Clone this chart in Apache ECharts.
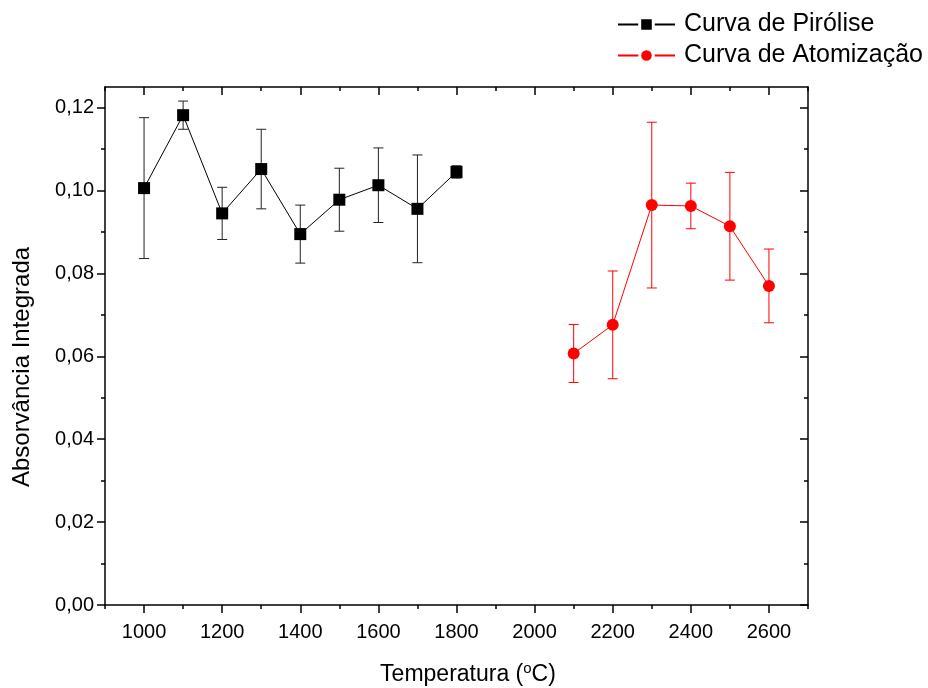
<!DOCTYPE html>
<html>
<head>
<meta charset="utf-8">
<script src="https://cdn.jsdelivr.net/npm/echarts@6/dist/echarts.min.js"></script>
<style>html,body{margin:0;padding:0;background:#fff}#c{width:928px;height:688px}</style>
</head>
<body>
<div id="c"></div>
<script>
// ---- data ----
const pyroTemps = [1000, 1100, 1200, 1300, 1400, 1500, 1600, 1700, 1800];
const pyroValues = [0.1006, 0.1182, 0.0945, 0.1052, 0.0895, 0.0978, 0.1013, 0.0956, 0.1045];
const pyroErr = [0.0170, 0.0034, 0.0063, 0.0096, 0.0070, 0.0076, 0.0090, 0.0130, 0.0015];
const atomTemps = [2100, 2200, 2300, 2400, 2500, 2600];
const atomValues = [0.0607, 0.0676, 0.0965, 0.0963, 0.0914, 0.0770];
const atomErr = [0.0070, 0.0130, 0.0200, 0.0055, 0.0130, 0.0089];
const xMajorTicks = [1000, 1200, 1400, 1600, 1800, 2000, 2200, 2400, 2600];
const xMinorTicks = [900, 1100, 1300, 1500, 1700, 1900, 2100, 2300, 2500, 2700];
const yMajorTicks = [0, 0.02, 0.04, 0.06, 0.08, 0.10, 0.12];
const yMinorTicks = [0.01, 0.03, 0.05, 0.07, 0.09, 0.11];
const seriesNames = ['Curva de Pirólise', 'Curva de Atomização'];
const xTitle = ['Temperatura (', 'o', 'C)'];
const yTitle = 'Absorvância Integrada';

const FONT = '"Liberation Sans", Arial, sans-serif';
const chart = echarts.init(document.getElementById('c'));
const axisLineStyle = { color: '#000', width: 1.5 };

function errRender(color) {
  return function (params, api) {
    const x = api.value(0), y = api.value(1), e = api.value(2);
    const top = api.coord([x, y + e]);
    const bot = api.coord([x, y - e]);
    const hw = 5;
    const style = { stroke: color, lineWidth: 1, fill: null };
    return {
      type: 'group',
      children: [
        { type: 'line', shape: { x1: top[0], y1: top[1], x2: bot[0], y2: bot[1] }, style: style },
        { type: 'line', shape: { x1: top[0] - hw, y1: top[1], x2: top[0] + hw, y2: top[1] }, style: style },
        { type: 'line', shape: { x1: bot[0] - hw, y1: bot[1], x2: bot[0] + hw, y2: bot[1] }, style: style }
      ]
    };
  };
}

function xAx(pos, ticks, len, inside, showLine, showLabel) {
  return {
    type: 'value', position: pos, min: 900, max: 2700,
    axisLine: { show: showLine, onZero: false, lineStyle: axisLineStyle },
    axisTick: { show: true, inside: inside, length: len, customValues: ticks, lineStyle: axisLineStyle },
    axisLabel: showLabel ? {
      customValues: xMajorTicks, fontSize: 20, fontFamily: FONT, color: '#000', margin: 17,
      formatter: v => String(v)
    } : { show: false },
    splitLine: { show: false }
  };
}
function yAx(pos, ticks, len, inside, showLine, showLabel) {
  return {
    type: 'value', position: pos, min: 0, max: 0.125,
    axisLine: { show: showLine, onZero: false, lineStyle: axisLineStyle },
    axisTick: { show: true, inside: inside, length: len, customValues: ticks, lineStyle: axisLineStyle },
    axisLabel: showLabel ? {
      customValues: yMajorTicks, fontSize: 20, fontFamily: FONT, color: '#000', margin: 11,
      formatter: v => v.toFixed(2).replace('.', ',')
    } : { show: false },
    splitLine: { show: false }
  };
}

const legendItemStyle = { borderColor: '#fff', borderWidth: 3 };

chart.setOption({
  animation: false,
  backgroundColor: '#fff',
  grid: { left: 105, right: 120, top: 87, bottom: 83, outerBoundsMode: 'none', containLabel: false },
  legend: {
    orient: 'vertical', left: 617, top: 12, padding: 0,
    itemWidth: 57, itemHeight: 17, itemGap: 6,
    textStyle: { fontSize: 25, fontFamily: FONT, color: '#000', padding: [0, 0, 0, 4] },
    itemStyle: legendItemStyle,
    data: seriesNames.map(n => ({ name: n, itemStyle: legendItemStyle }))
  },
  graphic: [
    {
      type: 'text', x: 468, y: 675,
      style: {
        text: '{t|' + xTitle[0] + '}{s|' + xTitle[1] + '}{t|' + xTitle[2] + '}',
        align: 'center', verticalAlign: 'middle',
        rich: {
          t: { fontSize: 23, fontFamily: FONT, fill: '#000' },
          s: { fontSize: 15, fontFamily: FONT, fill: '#000', verticalAlign: 'top', padding: [0, 0, 13, 0] }
        }
      }
    },
    {
      type: 'text', x: 22, y: 367, rotation: Math.PI / 2,
      style: {
        text: yTitle, fontSize: 24, fontFamily: FONT, fill: '#000',
        align: 'center', verticalAlign: 'middle'
      }
    }
  ],
  xAxis: [
    xAx('bottom', xMajorTicks, 8, false, true, true),
    xAx('bottom', xMinorTicks, 4, false, false, false),
    xAx('top', xMajorTicks, 8, true, true, false),
    xAx('top', xMinorTicks, 4, true, false, false)
  ],
  yAxis: [
    yAx('left', yMajorTicks, 8, false, true, true),
    yAx('left', yMinorTicks, 4, false, false, false),
    yAx('right', yMajorTicks, 8, true, true, false),
    yAx('right', yMinorTicks, 4, true, false, false)
  ],
  series: [
    {
      type: 'custom', name: 'errPyro', xAxisIndex: 0, yAxisIndex: 0, z: 1,
      renderItem: errRender('#222'), encode: { x: 0, y: 1 },
      data: pyroTemps.map((t, i) => [t, pyroValues[i], pyroErr[i]])
    },
    {
      type: 'custom', name: 'errAtom', xAxisIndex: 0, yAxisIndex: 0, z: 1,
      renderItem: errRender('#ff0000'), encode: { x: 0, y: 1 },
      data: atomTemps.map((t, i) => [t, atomValues[i], atomErr[i]])
    },
    {
      type: 'line', name: seriesNames[0], xAxisIndex: 0, yAxisIndex: 0, z: 3,
      symbol: 'rect', symbolSize: 12,
      itemStyle: { color: '#000' }, lineStyle: { color: '#000', width: 1 },
      data: pyroTemps.map((t, i) => [t, pyroValues[i]])
    },
    {
      type: 'line', name: seriesNames[1], xAxisIndex: 0, yAxisIndex: 0, z: 3,
      symbol: 'circle', symbolSize: 12,
      itemStyle: { color: '#ff0000' }, lineStyle: { color: '#ff0000', width: 1 },
      data: atomTemps.map((t, i) => [t, atomValues[i]])
    }
  ]
});
</script>
</body>
</html>
